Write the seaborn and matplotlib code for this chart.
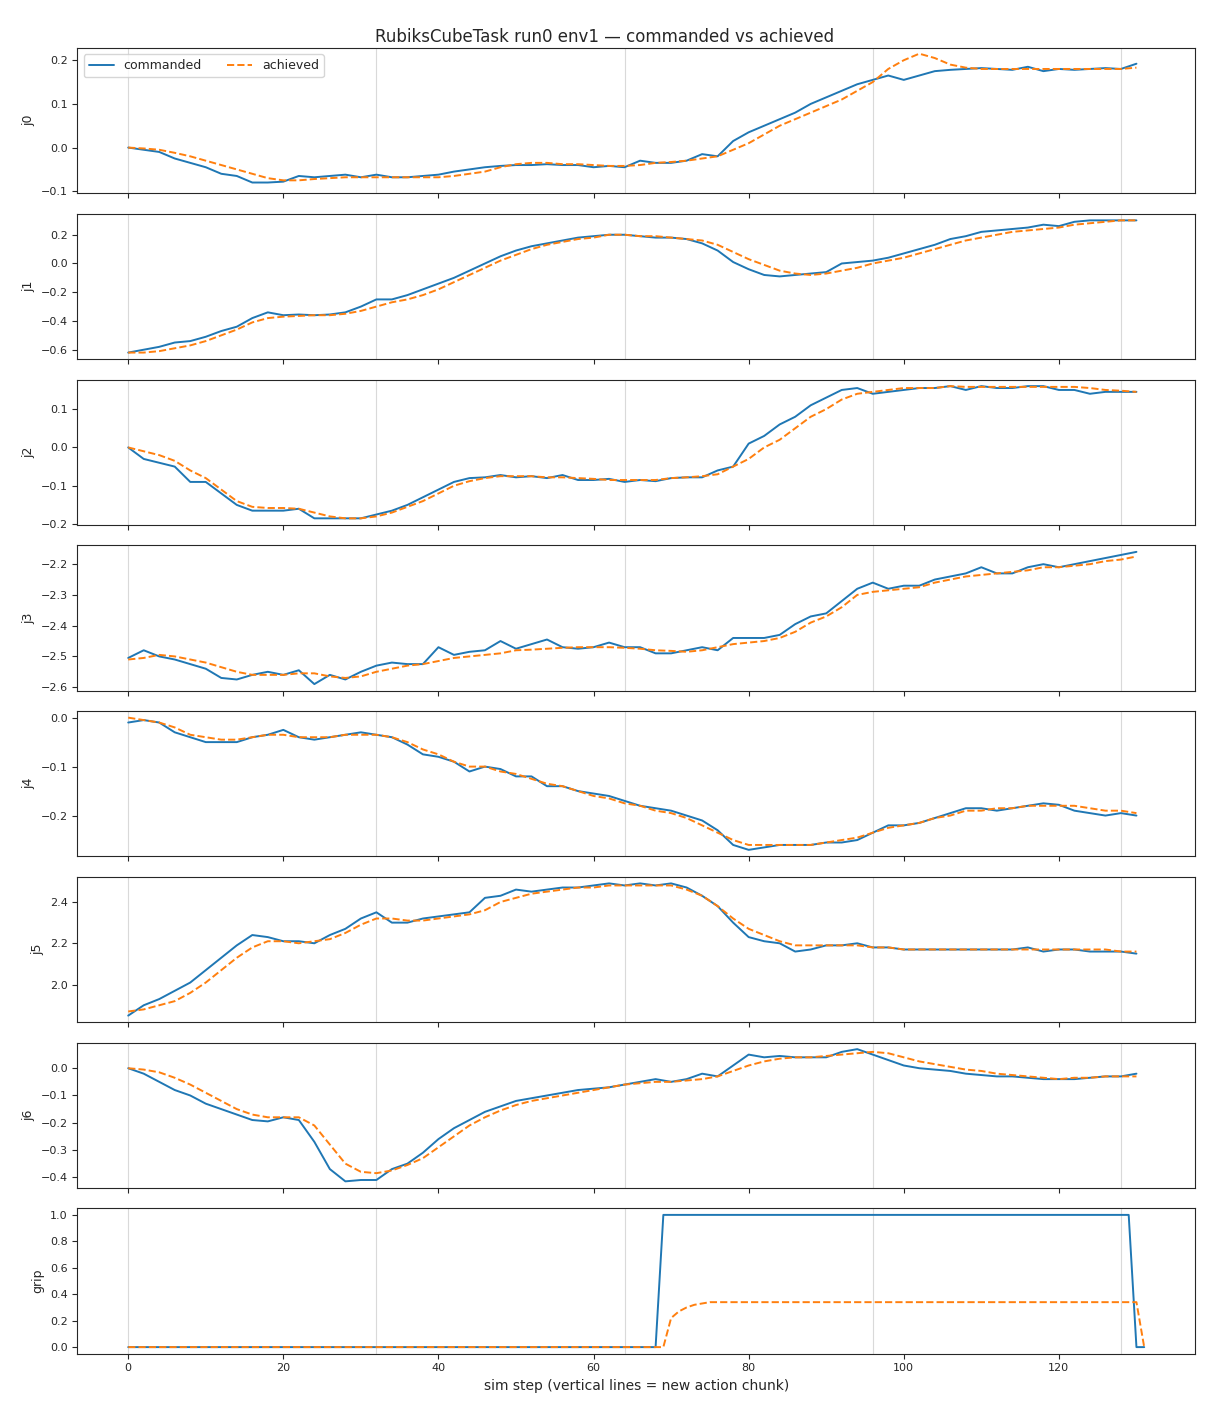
import numpy as np
import matplotlib
matplotlib.use("Agg")
import matplotlib.pyplot as plt
from matplotlib.ticker import MultipleLocator
import seaborn as sns

j0_cmd = [0.0,-0.005,-0.01,-0.025,-0.035,-0.045,-0.06,-0.065,-0.08,-0.08,-0.078,-0.065,-0.068,-0.065,-0.062,-0.068,-0.062,-0.068,-0.068,-0.065,-0.062,-0.055,-0.05,-0.045,-0.042,-0.04,-0.04,-0.038,-0.04,-0.04,-0.045,-0.042,-0.045,-0.03,-0.035,-0.035,-0.03,-0.015,-0.02,0.015,0.035,0.05,0.065,0.08,0.1,0.115,0.13,0.145,0.155,0.165,0.155,0.165,0.175,0.178,0.18,0.182,0.18,0.178,0.185,0.175,0.18,0.178,0.18,0.182,0.18,0.192]
j0_ach = [0,-0.002,-0.005,-0.012,-0.02,-0.03,-0.04,-0.05,-0.06,-0.07,-0.075,-0.075,-0.072,-0.07,-0.068,-0.068,-0.068,-0.068,-0.068,-0.068,-0.068,-0.065,-0.06,-0.055,-0.045,-0.038,-0.035,-0.035,-0.038,-0.038,-0.04,-0.042,-0.042,-0.04,-0.035,-0.033,-0.03,-0.025,-0.02,-0.005,0.01,0.03,0.05,0.065,0.08,0.095,0.11,0.13,0.15,0.18,0.2,0.215,0.205,0.19,0.183,0.18,0.18,0.18,0.18,0.18,0.18,0.18,0.18,0.18,0.18,0.183]
j1_cmd = [-0.62,-0.6,-0.58,-0.55,-0.54,-0.51,-0.47,-0.44,-0.38,-0.34,-0.36,-0.355,-0.36,-0.355,-0.34,-0.3,-0.25,-0.25,-0.22,-0.18,-0.14,-0.1,-0.05,0.0,0.05,0.09,0.12,0.14,0.16,0.18,0.19,0.2,0.2,0.19,0.18,0.18,0.17,0.14,0.09,0.01,-0.04,-0.08,-0.09,-0.08,-0.07,-0.06,0.0,0.01,0.02,0.04,0.07,0.1,0.13,0.17,0.19,0.22,0.23,0.24,0.25,0.27,0.26,0.29,0.3,0.3,0.3,0.3]
j1_ach = [-0.62,-0.62,-0.61,-0.59,-0.57,-0.54,-0.5,-0.46,-0.41,-0.38,-0.37,-0.365,-0.36,-0.36,-0.35,-0.33,-0.3,-0.27,-0.25,-0.22,-0.18,-0.13,-0.08,-0.03,0.02,0.06,0.1,0.13,0.15,0.17,0.18,0.2,0.2,0.19,0.19,0.18,0.17,0.16,0.13,0.08,0.03,-0.01,-0.05,-0.07,-0.08,-0.07,-0.05,-0.03,0.0,0.02,0.04,0.07,0.1,0.13,0.16,0.18,0.2,0.22,0.23,0.24,0.25,0.27,0.28,0.29,0.3,0.3]
j2_cmd = [0.0,-0.03,-0.04,-0.05,-0.09,-0.09,-0.12,-0.15,-0.165,-0.165,-0.165,-0.16,-0.185,-0.185,-0.185,-0.185,-0.175,-0.165,-0.15,-0.13,-0.11,-0.09,-0.08,-0.078,-0.072,-0.078,-0.075,-0.08,-0.072,-0.085,-0.085,-0.082,-0.09,-0.085,-0.088,-0.08,-0.078,-0.078,-0.06,-0.05,0.01,0.03,0.06,0.08,0.11,0.13,0.15,0.155,0.14,0.145,0.15,0.155,0.155,0.16,0.15,0.16,0.155,0.155,0.16,0.16,0.15,0.15,0.14,0.145,0.145,0.145]
j2_ach = [0.0,-0.01,-0.02,-0.035,-0.06,-0.08,-0.11,-0.14,-0.155,-0.158,-0.158,-0.16,-0.17,-0.18,-0.185,-0.185,-0.18,-0.17,-0.155,-0.14,-0.12,-0.1,-0.088,-0.08,-0.075,-0.075,-0.075,-0.078,-0.078,-0.08,-0.082,-0.085,-0.085,-0.085,-0.085,-0.08,-0.078,-0.075,-0.07,-0.05,-0.03,0.0,0.02,0.05,0.08,0.1,0.125,0.14,0.145,0.15,0.155,0.155,0.155,0.16,0.158,0.158,0.158,0.158,0.158,0.158,0.158,0.158,0.155,0.15,0.148,0.145]
j3_cmd = [-2.505,-2.48,-2.5,-2.51,-2.525,-2.54,-2.57,-2.575,-2.56,-2.55,-2.56,-2.545,-2.59,-2.56,-2.575,-2.55,-2.53,-2.52,-2.525,-2.525,-2.47,-2.495,-2.485,-2.48,-2.45,-2.475,-2.46,-2.445,-2.47,-2.475,-2.47,-2.455,-2.47,-2.47,-2.49,-2.49,-2.48,-2.47,-2.48,-2.44,-2.44,-2.44,-2.43,-2.395,-2.37,-2.36,-2.32,-2.28,-2.26,-2.28,-2.27,-2.27,-2.25,-2.24,-2.23,-2.21,-2.23,-2.23,-2.21,-2.2,-2.21,-2.2,-2.19,-2.18,-2.17,-2.16]
j3_ach = [-2.51,-2.505,-2.495,-2.5,-2.51,-2.52,-2.535,-2.55,-2.56,-2.56,-2.56,-2.555,-2.555,-2.565,-2.57,-2.565,-2.55,-2.54,-2.53,-2.525,-2.515,-2.505,-2.5,-2.495,-2.49,-2.48,-2.478,-2.475,-2.472,-2.47,-2.47,-2.47,-2.472,-2.475,-2.48,-2.482,-2.485,-2.48,-2.47,-2.46,-2.455,-2.45,-2.44,-2.42,-2.39,-2.37,-2.34,-2.3,-2.29,-2.285,-2.28,-2.275,-2.26,-2.25,-2.24,-2.235,-2.23,-2.225,-2.22,-2.21,-2.21,-2.205,-2.2,-2.19,-2.185,-2.175]
j4_cmd = [-0.01,-0.005,-0.01,-0.03,-0.04,-0.05,-0.05,-0.05,-0.04,-0.035,-0.025,-0.04,-0.045,-0.04,-0.035,-0.03,-0.035,-0.04,-0.055,-0.075,-0.08,-0.09,-0.11,-0.1,-0.105,-0.12,-0.12,-0.14,-0.14,-0.15,-0.155,-0.16,-0.17,-0.18,-0.185,-0.19,-0.2,-0.21,-0.23,-0.26,-0.27,-0.265,-0.26,-0.26,-0.26,-0.255,-0.255,-0.25,-0.235,-0.22,-0.22,-0.215,-0.205,-0.195,-0.185,-0.185,-0.19,-0.185,-0.18,-0.175,-0.178,-0.19,-0.195,-0.2,-0.195,-0.2]
j4_ach = [0.0,-0.005,-0.01,-0.02,-0.035,-0.04,-0.045,-0.045,-0.04,-0.035,-0.035,-0.04,-0.04,-0.04,-0.035,-0.035,-0.035,-0.04,-0.05,-0.065,-0.075,-0.09,-0.1,-0.1,-0.11,-0.115,-0.125,-0.135,-0.14,-0.15,-0.16,-0.165,-0.175,-0.18,-0.19,-0.195,-0.205,-0.22,-0.235,-0.25,-0.26,-0.26,-0.26,-0.26,-0.26,-0.255,-0.25,-0.245,-0.235,-0.225,-0.22,-0.215,-0.205,-0.2,-0.19,-0.19,-0.185,-0.185,-0.18,-0.18,-0.18,-0.18,-0.185,-0.19,-0.19,-0.195]
j5_cmd = [1.85,1.9,1.93,1.97,2.01,2.07,2.13,2.19,2.24,2.23,2.21,2.21,2.2,2.24,2.27,2.32,2.35,2.3,2.3,2.32,2.33,2.34,2.35,2.42,2.43,2.46,2.45,2.46,2.47,2.47,2.48,2.49,2.48,2.49,2.48,2.49,2.47,2.43,2.38,2.3,2.23,2.21,2.2,2.16,2.17,2.19,2.19,2.2,2.18,2.18,2.17,2.17,2.17,2.17,2.17,2.17,2.17,2.17,2.18,2.16,2.17,2.17,2.16,2.16,2.16,2.15]
j5_ach = [1.87,1.88,1.9,1.92,1.96,2.01,2.07,2.13,2.18,2.21,2.21,2.2,2.21,2.22,2.25,2.29,2.32,2.32,2.31,2.31,2.32,2.33,2.34,2.36,2.4,2.42,2.44,2.45,2.46,2.47,2.47,2.48,2.48,2.48,2.48,2.48,2.46,2.43,2.38,2.32,2.27,2.24,2.21,2.19,2.19,2.19,2.19,2.19,2.18,2.18,2.17,2.17,2.17,2.17,2.17,2.17,2.17,2.17,2.17,2.17,2.17,2.17,2.17,2.17,2.16,2.16]
j6_cmd = [0.0,-0.02,-0.05,-0.08,-0.1,-0.13,-0.15,-0.17,-0.19,-0.195,-0.18,-0.19,-0.27,-0.37,-0.415,-0.41,-0.41,-0.37,-0.35,-0.31,-0.26,-0.22,-0.19,-0.16,-0.14,-0.12,-0.11,-0.1,-0.09,-0.08,-0.075,-0.07,-0.06,-0.05,-0.04,-0.05,-0.04,-0.02,-0.03,0.01,0.05,0.04,0.045,0.04,0.04,0.04,0.06,0.07,0.05,0.03,0.01,0.0,-0.005,-0.01,-0.02,-0.025,-0.03,-0.03,-0.035,-0.04,-0.04,-0.04,-0.035,-0.03,-0.03,-0.02]
j6_ach = [0.0,-0.005,-0.015,-0.035,-0.06,-0.09,-0.12,-0.15,-0.17,-0.18,-0.18,-0.18,-0.21,-0.28,-0.35,-0.38,-0.385,-0.375,-0.355,-0.33,-0.29,-0.25,-0.21,-0.18,-0.155,-0.135,-0.12,-0.11,-0.1,-0.09,-0.08,-0.07,-0.06,-0.055,-0.05,-0.05,-0.045,-0.04,-0.03,-0.01,0.01,0.025,0.035,0.04,0.04,0.045,0.05,0.055,0.06,0.055,0.04,0.025,0.015,0.005,-0.005,-0.01,-0.02,-0.025,-0.03,-0.035,-0.04,-0.035,-0.035,-0.03,-0.03,-0.03]

# gripper, one value per sim step (0..131)
grip_cmd = [0.0] * 69 + [1.0] * 61 + [0.0] * 2
grip_ach = [0.0] * 70 + [0.22, 0.27, 0.3, 0.32, 0.33, 0.34] + [0.34] * 55 + [0.0]

chunk_starts = [0, 32, 64, 96, 128]
joints = ["j0", "j1", "j2", "j3", "j4", "j5", "j6"]
cmd = [j0_cmd, j1_cmd, j2_cmd, j3_cmd, j4_cmd, j5_cmd, j6_cmd]
ach = [j0_ach, j1_ach, j2_ach, j3_ach, j4_ach, j5_ach, j6_ach]

sns.set_style("ticks")
plt.rcParams['font.family'] = ['DejaVu Sans']

fig, axes = plt.subplots(8, 1, figsize=(12.1, 14.08), dpi=100, sharex=True)

for i, ax in enumerate(axes):
    if i < 7:
        c, a = cmd[i], ach[i]
        xc = 2 * np.arange(len(c))
        xa = 2 * np.arange(len(a))
        name = joints[i]
    else:
        c, a = grip_cmd, grip_ach
        xc = np.arange(len(c))
        xa = np.arange(len(a))
        name = "grip"
    for s in chunk_starts:
        ax.axvline(s, color="0.85", lw=0.8, zorder=0)
    sns.lineplot(x=xc, y=c, ax=ax, color="#1f77b4", lw=1.4, label="commanded" if i == 0 else None)
    sns.lineplot(x=xa, y=a, ax=ax, color="#ff7f0e", lw=1.4, ls="--", label="achieved" if i == 0 else None)
    ax.set_ylabel(name, fontsize=9)
    ax.tick_params(labelsize=8)
    if i == 0:
        ax.legend(loc="upper left", ncol=2, fontsize=9)
        ax.set_ylim(-0.105, 0.228)
    if i == 4:
        ax.yaxis.set_major_locator(MultipleLocator(0.1))
    if i == 7:
        ax.tick_params(labelbottom=True)

axes[-1].set_xlabel("sim step (vertical lines = new action chunk)", fontsize=10)
fig.suptitle("RubiksCubeTask run0 env1 — commanded vs achieved", fontsize=12)
fig.tight_layout()
fig.savefig("out.png")
